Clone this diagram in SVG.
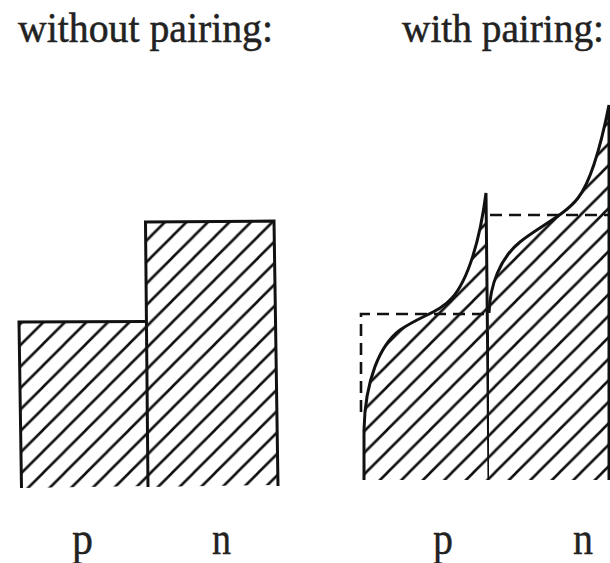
<svg xmlns="http://www.w3.org/2000/svg" width="610" height="563" viewBox="0 0 610 563">
  <style>
    .title { font-family: "Liberation Serif", "DejaVu Serif", serif; font-size: 42px; fill: #222; stroke: #222; stroke-width: 0.5; }
    .title-r { font-size: 40px; }
    .lbl { font-family: "Liberation Serif", "DejaVu Serif", serif; font-size: 46px; fill: #222; stroke: #222; stroke-width: 0.4; }
    .outline { fill: none; stroke: #111; stroke-width: 3; stroke-linejoin: miter; }
    .dash { fill: none; stroke: #111; stroke-width: 2.6; stroke-dasharray: 12 7; }
    .hatched { fill: url(#hatch); stroke: none; }
  </style>
  <defs>
    <pattern id="hatch" patternUnits="userSpaceOnUse" x="0" y="0" width="21.5" height="21.5">
      <rect width="21.5" height="21.5" fill="#fff"/>
      <path d="M-2,23.5 L23.5,-2 M-5,5 L5,-5 M16.5,26.5 L26.5,16.5" stroke="#111" stroke-width="2.6" fill="none"/>
    </pattern>
  </defs>
  <rect width="610" height="563" fill="#fff"/>

  <g id="title-left">
    <text class="title" x="18" y="42" textLength="255" lengthAdjust="spacingAndGlyphs">without pairing:</text>
  </g>
  <g id="title-right">
    <text class="title title-r" x="402" y="42" textLength="202" lengthAdjust="spacingAndGlyphs">with pairing:</text>
  </g>

  <g id="without-pairing">
    <g id="bar-p">
      <path class="hatched" d="M21.5,488 L19,322 L146.5,321.5 L148,486 Z"/>
    </g>
    <g id="bar-n">
      <path class="hatched" d="M147,487 L145.5,222 L274,221 L278,485 Z"/>
    </g>
    <path class="outline" d="M21.5,488 L19,322 L146,321.5"/>
    <path class="outline" d="M148,487 L145.5,222 L274,221 L278,486"/>
  </g>

  <g id="with-pairing">
    <g id="curve-p">
      <path class="hatched" d="M364,480 L364,430 C365,380 380,345 400,330 C420,316 440,312 452,298 C468,280 480,240 486,193 L489,480 Z"/>
      <path class="outline" d="M364,480 L364,430 C365,380 380,345 400,330 C420,316 440,312 452,298 C468,280 480,240 486,193 L489,480"/>
    </g>
    <g id="curve-n">
      <path class="hatched" d="M489,313 C490,285 500,258 520,242 C540,226 565,215 578,198 C592,180 602,140 609,105 L609,480 L489,480 Z"/>
      <path class="outline" d="M489,313 C490,285 500,258 520,242 C540,226 565,215 578,198 C592,180 602,140 609,105 L609,480"/>
    </g>
    <g id="dashed-levels">
      <path class="dash" d="M361,412 L361,314 L489,314"/>
      <path class="dash" d="M490,215 L610,215"/>
    </g>
  </g>

  <g id="labels">
    <text class="lbl" x="72" y="554" textLength="21" lengthAdjust="spacingAndGlyphs">p</text>
    <text class="lbl" x="212" y="554" textLength="19" lengthAdjust="spacingAndGlyphs">n</text>
    <text class="lbl" x="433" y="554" textLength="20" lengthAdjust="spacingAndGlyphs">p</text>
    <text class="lbl" x="573" y="554" textLength="20" lengthAdjust="spacingAndGlyphs">n</text>
  </g>
</svg>
